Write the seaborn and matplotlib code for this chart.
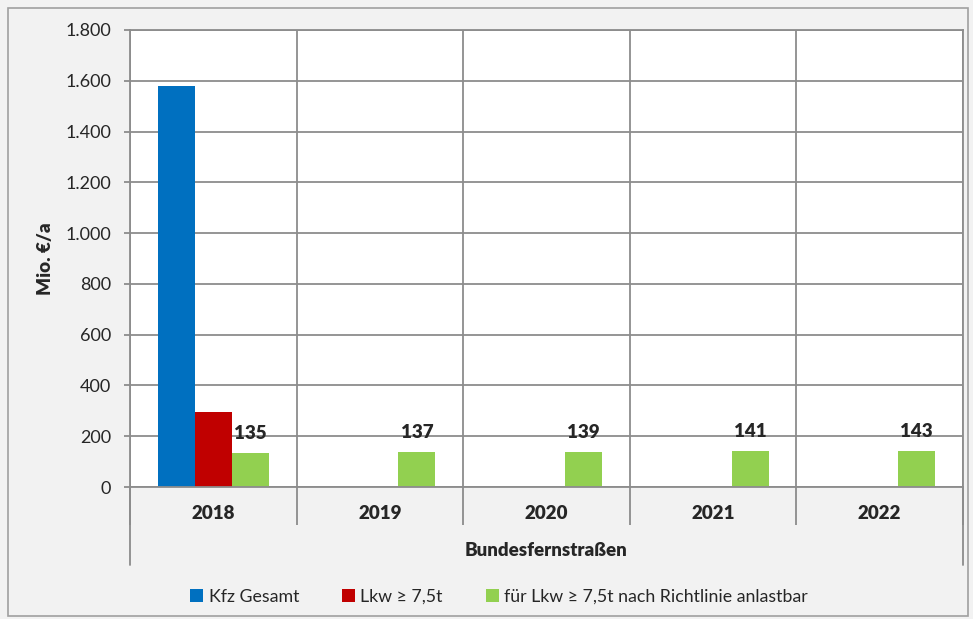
import pandas as pd
import matplotlib.pyplot as plt
from matplotlib.lines import Line2D
from matplotlib.patches import Rectangle
from matplotlib.ticker import FuncFormatter
import seaborn as sns

years = ["2018", "2019", "2020", "2021", "2022"]
series = ["Kfz Gesamt", "Lkw ≥ 7,5t", "für Lkw ≥ 7,5t nach Richtlinie anlastbar"]
kfz_gesamt = [1580, None, None, None, None]
lkw = [297, None, None, None, None]
anlastbar = [135, 137, 139, 141, 143]
colors = ["#0070C0", "#C00000", "#92D050"]

rows = []
for name, vals in zip(series, [kfz_gesamt, lkw, anlastbar]):
    for y, v in zip(years, vals):
        rows.append({"Jahr": y, "Reihe": name, "Wert": v})
df = pd.DataFrame(rows)

sns.set_style("white")
plt.rcParams["font.family"] = ["Lato", "DejaVu Sans"]
grid_col = "#8c8c8c"

fig = plt.figure(figsize=(9.73, 6.19), dpi=100)
fig.patch.set_facecolor("#f2f2f2")
fig.patches.append(Rectangle((8 / 973, 3 / 619), 960 / 973, 608 / 619, transform=fig.transFigure,
                             fill=False, edgecolor="#a0a0a0", linewidth=1.2))
ax = fig.add_axes([130 / 973, 132 / 619, 833 / 973, 457 / 619])
ax.set_facecolor("white")

sns.barplot(data=df, x="Jahr", y="Wert", hue="Reihe", order=years, hue_order=series,
            palette=colors, width=0.667, gap=0, saturation=1, ax=ax, legend=True,
            edgecolor="none", linewidth=0)

ax.bar_label(ax.containers[2], fmt="%d", padding=8, fontsize=13.5, fontweight="heavy")

ax.set_ylim(0, 1800)
ax.set_xlim(-0.5, 4.5)
ax.set_yticks(range(0, 1801, 200))
ax.yaxis.set_major_formatter(FuncFormatter(lambda v, p: f"{int(v):,}".replace(",", ".")))
ax.set_xticks([k - 0.5 for k in range(6)], minor=True)
ax.grid(axis="y", color=grid_col, linewidth=1.3)
ax.grid(axis="x", which="minor", color=grid_col, linewidth=1.3)
ax.set_axisbelow(True)
for s in ax.spines.values():
    s.set_color(grid_col)
    s.set_linewidth(1.3)

ax.tick_params(axis="y", left=True, length=4.5, width=1.3, color=grid_col, pad=9, labelsize=13)
ax.tick_params(axis="x", which="major", length=0, pad=13, labelsize=13.5)
ax.tick_params(axis="x", which="minor", bottom=True, length=27, width=1.3, color=grid_col)
for lab in ax.get_xticklabels():
    lab.set_fontweight("heavy")

# outer lines of the category axis
tr = ax.get_xaxis_transform()
for xb in [-0.5, 4.5]:
    ax.add_line(Line2D([xb, xb], [0, -78 / 457], transform=tr, color=grid_col,
                       linewidth=1.3, clip_on=False))

ax.set_xlabel("")
ax.text(0.5, -63 / 457, "Bundesfernstraßen", transform=ax.transAxes, ha="center", va="center",
        fontsize=13.5, fontweight="heavy")
ax.set_ylabel("Mio. €/a", fontsize=13.5, fontweight="heavy")
ax.yaxis.set_label_coords(-76 / 833, 0.5)

handles, labels = ax.get_legend_handles_labels()
ax.legend(handles, labels, loc="center", bbox_to_anchor=(499 / 973, 22 / 619),
          bbox_transform=fig.transFigure, ncol=3, frameon=False, fontsize=12.8,
          handlelength=0.75, handleheight=0.75, handletextpad=0.3, columnspacing=2.4)

fig.savefig("out.png", dpi=100, facecolor=fig.get_facecolor())
